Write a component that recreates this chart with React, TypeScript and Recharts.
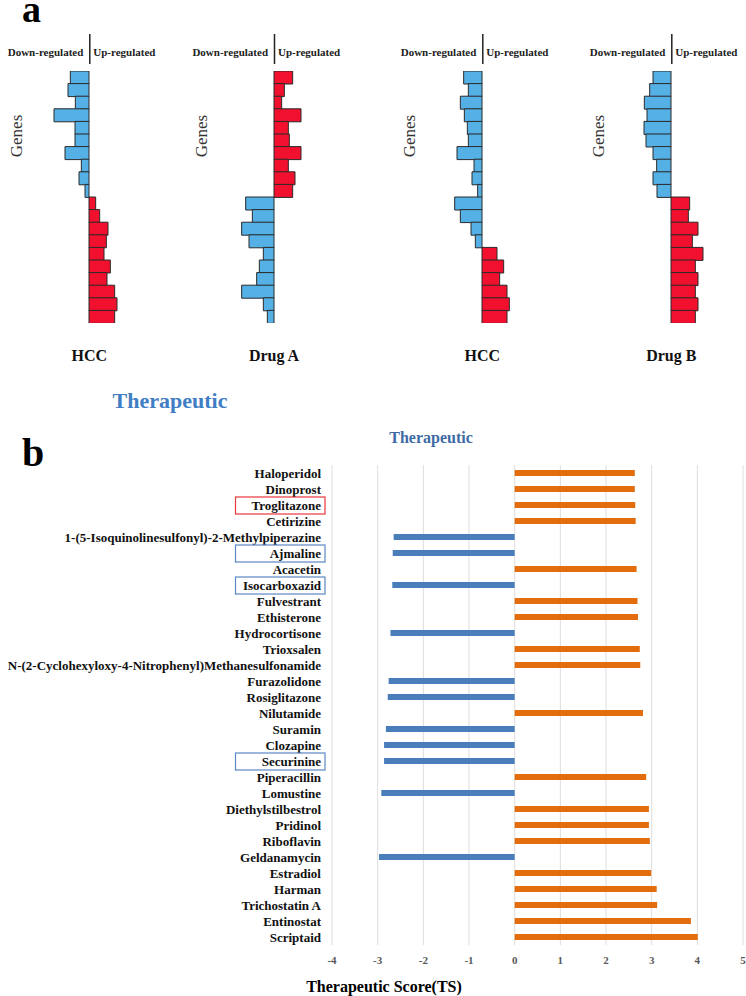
import React from 'react';
import { BarChart, Bar, XAxis, YAxis, Cell, CartesianGrid } from 'recharts';

const FONT = '"Liberation Serif", "Times New Roman", serif';

const geneRows = ['G1', 'G2', 'G3', 'G4', 'G5', 'G6', 'G7', 'G8', 'G9', 'G10', 'G11', 'G12', 'G13', 'G14', 'G15', 'G16', 'G17', 'G18', 'G19', 'G20'];
const hccAValues = [-56, -63, -41, -105, -42, -42, -72, -23, -30, -12, 20, 32, 57, 52, 45, 64, 54, 77, 84, 77];
const drugAValues = [56, 31, 23, 81, 43, 46, 81, 43, 63, 56, -85, -65, -97, -75, -32, -44, -52, -97, -32, -20];
const hccBValues = [-55, -41, -65, -53, -44, -41, -75, -24, -30, -13, -82, -65, -33, -20, 45, 65, 53, 75, 82, 75];
const drugBValues = [-54, -64, -80, -72, -81, -75, -54, -43, -54, -42, 56, 52, 81, 64, 96, 73, 81, 73, 81, 73];
const miniTitles = ['HCC', 'Drug A', 'HCC', 'Drug B'];

const drugNames = [
  'Haloperidol', 'Dinoprost', 'Troglitazone', 'Cetirizine',
  '1-(5-Isoquinolinesulfonyl)-2-Methylpiperazine', 'Ajmaline', 'Acacetin', 'Isocarboxazid',
  'Fulvestrant', 'Ethisterone', 'Hydrocortisone', 'Trioxsalen',
  'N-(2-Cyclohexyloxy-4-Nitrophenyl)Methanesulfonamide', 'Furazolidone', 'Rosiglitazone', 'Nilutamide',
  'Suramin', 'Clozapine', 'Securinine', 'Piperacillin', 'Lomustine', 'Diethylstilbestrol',
  'Pridinol', 'Riboflavin', 'Geldanamycin', 'Estradiol', 'Harman', 'Trichostatin A',
  'Entinostat', 'Scriptaid',
];
const drugScores = [
  2.63, 2.63, 2.64, 2.65,
  -2.65, -2.67, 2.67, -2.68,
  2.69, 2.70, -2.72, 2.74,
  2.75, -2.76, -2.78, 2.81,
  -2.82, -2.86, -2.86, 2.88, -2.92, 2.94,
  2.94, 2.96, -2.97, 2.99, 3.11, 3.12,
  3.86, 4.01,
];
const redBoxed = ['Troglitazone'];
const blueBoxed = ['Ajmaline', 'Isocarboxazid', 'Securinine'];
const scoreTicks = [-4, -3, -2, -1, 0, 1, 2, 3, 4, 5];

const MINI_BLUE = '#55B0E6';
const MINI_RED = '#F2102F';
const ORANGE = '#E36C0D';
const BLUE = '#4A7EBB';

type MiniProps = { values: number[]; axisX: number };

function MiniChart({ values, axisX }: MiniProps) {
  const data = geneRows.map((g, i) => ({ gene: g, v: values[i] }));
  return (
    <div style={{ position: 'absolute', left: axisX - 40, top: 71 }}>
      <BarChart
        width={80}
        height={252}
        data={data}
        layout="vertical"
        margin={{ top: 0, right: 0, bottom: 0, left: 0 }}
        barCategoryGap={0}
      >
        <XAxis type="number" domain={[-120, 120]} hide />
        <YAxis type="category" dataKey="gene" hide />
        <Bar dataKey="v" isAnimationActive={false} stroke="#2a2a2a" strokeWidth={1}>
          {data.map((d, i) => (
            <Cell key={i} fill={d.v < 0 ? MINI_BLUE : MINI_RED} />
          ))}
        </Bar>
      </BarChart>
    </div>
  );
}

const DrugTick = (props: any) => {
  const { x, y, payload } = props;
  const name = payload.value as string;
  const boxColor = redBoxed.includes(name) ? '#E8383D' : blueBoxed.includes(name) ? '#5B86C5' : null;
  return (
    <g>
      {boxColor && (
        <rect x={x - 88.5} y={y - 8} width={89.5} height={17} fill="none" stroke={boxColor} strokeWidth={1.2} />
      )}
      <text x={x - 3} y={y} dy={4.5} textAnchor="end" fontSize={13} fontWeight="bold" fontFamily={FONT} fill="#111">
        {name}
      </text>
    </g>
  );
};

const ScoreTick = (props: any) => {
  const { x, y, payload } = props;
  return (
    <text x={x} y={y} dy={11} textAnchor="middle" fontSize={11} fontWeight="bold" fontFamily={FONT} fill="#595959">
      {payload.value}
    </text>
  );
};

const miniAxes = [89.3, 274, 482.3, 671.3];
const miniValues = [hccAValues, drugAValues, hccBValues, drugBValues];

export default function App() {
  const drugData = drugNames.map((n, i) => ({ name: n, score: drugScores[i] }));
  return (
    <div style={{ position: 'absolute', left: 0, top: 0, width: 746, height: 996, background: '#fff', fontFamily: FONT }}>
      <svg width={746} height={996} style={{ position: 'absolute', left: 0, top: 0 }}>
        <text x={22} y={22} fontSize={38} fontWeight="bold" fontFamily={FONT} fill="#000">a</text>
        <text x={22} y={466} fontSize={40} fontWeight="bold" fontFamily={FONT} fill="#000">b</text>
        {miniAxes.map((ax, i) => (
          <g key={i}>
            <line x1={ax + 0.5} x2={ax + 0.5} y1={34} y2={64} stroke="#222" strokeWidth={1.5} />
            <text x={ax - 6} y={56} textAnchor="end" fontSize={11} fontWeight="bold" fontFamily={FONT} fill="#222">Down-regulated</text>
            <text x={ax + 4} y={56} textAnchor="start" fontSize={11} fontWeight="bold" fontFamily={FONT} fill="#222">Up-regulated</text>
            <text
              x={ax - 73}
              y={136}
              transform={`rotate(-90 ${ax - 73} 136)`}
              textAnchor="middle"
              dominantBaseline="central"
              fontSize={17}
              fontFamily={FONT}
              fill="#333"
            >
              Genes
            </text>
            <text x={ax} y={361} textAnchor="middle" fontSize={16} fontWeight="bold" fontFamily={FONT} fill="#111">
              {miniTitles[i]}
            </text>
          </g>
        ))}
        <text x={170} y={408} textAnchor="middle" fontSize={22} fontWeight="bold" fontFamily={FONT} fill="#3F7DC4">Therapeutic</text>
        <text x={431} y={443} textAnchor="middle" fontSize={16} fontWeight="bold" fontFamily={FONT} fill="#3E6AA5">Therapeutic</text>
        <text x={384} y={992} textAnchor="middle" fontSize={16} fontWeight="bold" fontFamily={FONT} fill="#000">Therapeutic Score(TS)</text>
      </svg>

      {miniAxes.map((ax, i) => (
        <MiniChart key={i} values={miniValues[i]} axisX={ax} />
      ))}

      <div style={{ position: 'absolute', left: 0, top: 420 }}>
        <BarChart
          width={746}
          height={576}
          data={drugData}
          layout="vertical"
          margin={{ top: 45, right: 3, bottom: 0, left: 0 }}
          barSize={6}
        >
          <CartesianGrid horizontal={false} vertical={true} stroke="#DEDEDE" />
          <XAxis
            type="number"
            domain={[-4, 5]}
            ticks={scoreTicks}
            interval={0}
            height={51}
            axisLine={false}
            tickLine={false}
            tick={<ScoreTick />}
          />
          <YAxis
            type="category"
            dataKey="name"
            width={332}
            axisLine={false}
            tickLine={false}
            interval={0}
            tick={<DrugTick />}
          />
          <Bar dataKey="score" isAnimationActive={false}>
            {drugData.map((d, i) => (
              <Cell key={i} fill={d.score < 0 ? BLUE : ORANGE} />
            ))}
          </Bar>
        </BarChart>
      </div>
    </div>
  );
}
